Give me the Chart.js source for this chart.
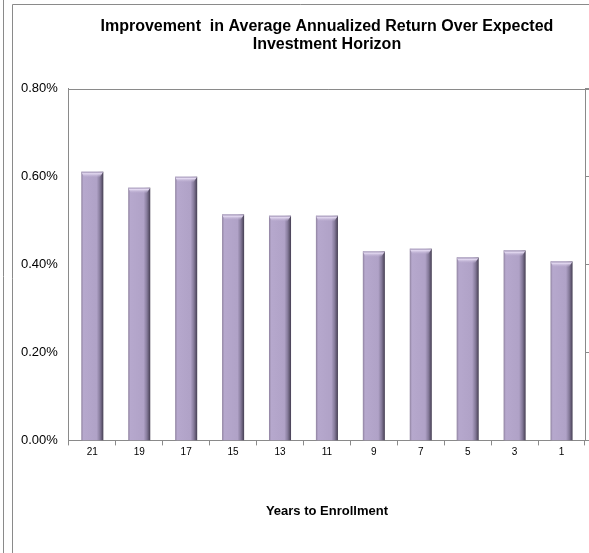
<!DOCTYPE html>
<html lang="en">
<head>
  <meta charset="UTF-8" />
  <title>Improvement in Average Annualized Return</title>
  <script src="https://cdn.jsdelivr.net/npm/chart.js"></script>
  <style>
    html, body { margin: 0; padding: 0; background: #fff; }
    #wrap { width: 589px; height: 553px; position: relative; }
  </style>
</head>
<body>
  <div id="wrap">
    <canvas id="returnChart"></canvas>
  </div>

  <script>
    // data
    const years = ["21", "19", "17", "15", "13", "11", "9", "7", "5", "3", "1"];
    const improvement = [0.611, 0.575, 0.600, 0.514, 0.511, 0.511, 0.430, 0.436, 0.416, 0.432, 0.407];
    const yTicks = [0, 0.2, 0.4, 0.6, 0.8];

    const fontFamily = "'Liberation Sans', Arial, sans-serif";
    const lineGray = "#8a8a8a";

    // side-lit bar fill, built per bar from the x scale
    function barFill(context) {
      const chart = context.chart;
      const area = chart.chartArea;
      if (!area) return "#b1a3c8";
      const xs = chart.scales.x;
      const cx = xs.getPixelForValue(context.dataIndex);
      const half = xs.width / years.length * 0.47 / 2;
      const g = chart.ctx.createLinearGradient(cx - half, 0, cx + half, 0);
      g.addColorStop(0, "#8f829f");
      g.addColorStop(0.1, "#b6a8cd");
      g.addColorStop(0.7, "#b0a2c7");
      g.addColorStop(0.85, "#857a9a");
      g.addColorStop(1, "#453e52");
      return g;
    }

    // outer frame lines + top edge of the plot box
    const framePlugin = {
      id: "frame",
      beforeDraw(chart) {
        const ctx = chart.ctx;
        ctx.save();
        ctx.strokeStyle = lineGray;
        ctx.lineWidth = 1;
        ctx.beginPath();
        ctx.moveTo(3.5, 0);
        ctx.lineTo(3.5, chart.height);
        ctx.moveTo(12.5, chart.height);
        ctx.lineTo(12.5, 4.5);
        ctx.lineTo(chart.width, 4.5);
        ctx.stroke();
        ctx.restore();
      },
      afterDraw(chart) {
        const a = chart.chartArea;
        const ctx = chart.ctx;
        ctx.save();
        ctx.strokeStyle = lineGray;
        ctx.lineWidth = 1;
        ctx.beginPath();
        ctx.moveTo(a.left, Math.round(a.top) + 0.5);
        ctx.lineTo(chart.width, Math.round(a.top) + 0.5);
        ctx.stroke();
        ctx.restore();
      }
    };

    // light bevel on top of each bar, from the bar elements themselves
    const bevelPlugin = {
      id: "bevel",
      afterDatasetsDraw(chart) {
        const ctx = chart.ctx;
        const meta = chart.getDatasetMeta(0);
        ctx.save();
        meta.data.forEach(bar => {
          const left = bar.x - bar.width / 2;
          const right = bar.x + bar.width / 2;
          const g = ctx.createLinearGradient(0, bar.y, 0, bar.y + 6);
          g.addColorStop(0, "#9d90b2");
          g.addColorStop(0.3, "#e2d8f0");
          g.addColorStop(1, "rgba(178,164,201,0)");
          ctx.fillStyle = g;
          ctx.beginPath();
          ctx.moveTo(left, bar.y);
          ctx.lineTo(right, bar.y);
          ctx.lineTo(right - 4, bar.y + 6);
          ctx.lineTo(left + 3, bar.y + 6);
          ctx.closePath();
          ctx.fill();
        });
        ctx.restore();
      }
    };

    const ctx = document.getElementById("returnChart").getContext("2d");
    new Chart(ctx, {
      type: "bar",
      data: {
        labels: years,
        datasets: [{
          label: "Improvement",
          data: improvement,
          backgroundColor: barFill,
          borderWidth: 0,
          barPercentage: 0.47,
          categoryPercentage: 1
        }]
      },
      options: {
        responsive: true,
        maintainAspectRatio: false,
        animation: false,
        layout: { padding: { top: 8, left: 10, right: 0, bottom: 34 } },
        plugins: {
          legend: { display: false },
          tooltip: { enabled: false },
          title: {
            display: true,
            fullSize: false,
            text: ["Improvement  in Average Annualized Return Over Expected", "Investment Horizon"],
            color: "#000",
            font: { family: fontFamily, size: 16, weight: "bold", lineHeight: 1.15 },
            padding: { top: 9, bottom: 35 }
          }
        },
        scales: {
          x: {
            grid: { display: true, drawOnChartArea: false, offset: true, tickLength: 5, color: lineGray },
            border: { display: true, color: lineGray },
            ticks: { color: "#000", font: { family: fontFamily, size: 10 }, padding: 1, maxRotation: 0 },
            title: {
              display: true,
              text: "Years to Enrollment",
              color: "#000",
              font: { family: fontFamily, size: 13, weight: "bold" },
              padding: { top: 44, bottom: 0 }
            }
          },
          y: {
            min: 0,
            max: 0.8,
            afterBuildTicks(axis) { axis.ticks = yTicks.map(v => ({ value: v })); },
            grid: { display: false, drawTicks: false },
            border: { display: true, color: lineGray },
            ticks: {
              color: "#000",
              font: { family: fontFamily, size: 13 },
              padding: 11,
              callback: v => v.toFixed(2) + "%"
            }
          },
          y2: {
            position: "right",
            min: 0,
            max: 0.8,
            afterBuildTicks(axis) { axis.ticks = yTicks.map(v => ({ value: v })); },
            grid: { display: true, drawOnChartArea: false, tickLength: 4, color: lineGray },
            border: { display: true, color: lineGray },
            ticks: { display: false }
          }
        }
      },
      plugins: [framePlugin, bevelPlugin]
    });
  </script>
</body>
</html>
